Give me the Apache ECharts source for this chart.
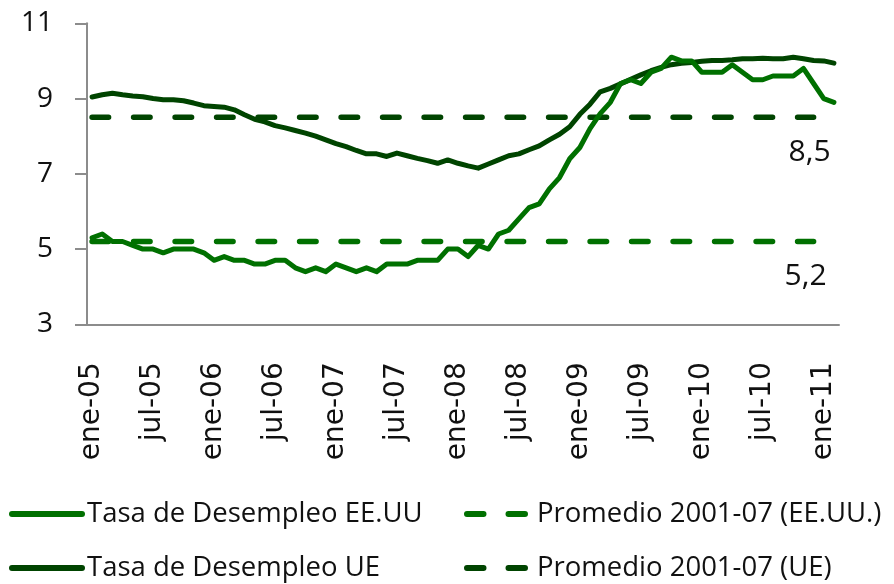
<!DOCTYPE html>
<html>
<head>
<meta charset="utf-8">
<script src="https://cdn.jsdelivr.net/npm/echarts@6/dist/echarts.min.js"></script>
<style>
  html, body { margin: 0; padding: 0; background: #fff; }
  #chart { width: 894px; height: 584px; }
</style>
</head>
<body>
<div id="chart"></div>
<script>
// Datos
const meses = ['ene', 'feb', 'mar', 'abr', 'may', 'jun', 'jul', 'ago', 'sep', 'oct', 'nov', 'dic'];
const anios = ['05', '06', '07', '08', '09', '10', '11'];
const categorias = [];
anios.forEach(function (a) {
  meses.forEach(function (m) { categorias.push(m + '-' + a); });
});
categorias.length = 74; // ene-05 .. feb-11

const tasaEEUU = [
  5.3, 5.4, 5.2, 5.2, 5.1, 5.0, 5.0, 4.9, 5.0, 5.0, 5.0, 4.9,
  4.7, 4.8, 4.7, 4.7, 4.6, 4.6, 4.7, 4.7, 4.5, 4.4, 4.5, 4.4,
  4.6, 4.5, 4.4, 4.5, 4.4, 4.6, 4.6, 4.6, 4.7, 4.7, 4.7, 5.0,
  5.0, 4.8, 5.1, 5.0, 5.4, 5.5, 5.8, 6.1, 6.2, 6.6, 6.9, 7.4,
  7.7, 8.2, 8.6, 8.9, 9.4, 9.5, 9.4, 9.7, 9.8, 10.1, 10.0, 10.0,
  9.7, 9.7, 9.7, 9.9, 9.7, 9.5, 9.5, 9.6, 9.6, 9.6, 9.8, 9.4,
  9.0, 8.9
];
const tasaUE = [
  9.04, 9.1, 9.14, 9.1, 9.07, 9.05, 9.0, 8.97, 8.97, 8.94, 8.88, 8.81,
  8.79, 8.77, 8.7, 8.57, 8.45, 8.38, 8.28, 8.22, 8.15, 8.08, 8.0, 7.9,
  7.8, 7.72, 7.62, 7.53, 7.53, 7.46, 7.55, 7.48, 7.41, 7.35, 7.28, 7.37,
  7.28, 7.21, 7.15, 7.26, 7.37, 7.48, 7.53, 7.64, 7.74, 7.9, 8.05, 8.25,
  8.58, 8.85, 9.18, 9.27, 9.39, 9.51, 9.63, 9.74, 9.83, 9.9, 9.94, 9.96,
  9.99, 10.01, 10.01, 10.03, 10.06, 10.06, 10.07, 10.06, 10.06, 10.1, 10.06, 10.01,
  10.0, 9.94
];
const promedioEEUU = 5.2;
const promedioUE = 8.5;
const mesesPromedio = 72; // ene-05 .. dic-10
const indiceEtiqueta = 71;

const verde = '#007000';
const verdeOscuro = '#004400';

function lineaPromedio(valor, dx) {
  const out = [];
  for (let i = 0; i < mesesPromedio; i++) {
    if (i === indiceEtiqueta) {
      out.push({
        value: valor,
        label: {
          show: true,
          position: 'bottom',
          distance: 20,
          offset: [dx, 0],
          formatter: String(valor).replace('.', ','),
          fontFamily: 'Open Sans',
          fontSize: 30,
          color: '#111'
        }
      });
    } else {
      out.push(valor);
    }
  }
  return out;
}

const grafico = echarts.init(document.getElementById('chart'));

const textoLeyenda = { fontFamily: 'Open Sans', fontSize: 27.5, color: '#111', lineHeight: 30 };
function leyenda(nombre, left, top, ancho, sangria) {
  return {
    left: left,
    top: top,
    padding: 0,
    itemWidth: ancho,
    itemHeight: 30,
    selectedMode: false,
    data: [nombre],
    itemStyle: { opacity: 0 },
    lineStyle: { width: 6, cap: 'round' },
    textStyle: Object.assign({}, textoLeyenda, { padding: [0, 0, 0, sangria] })
  };
}

const opciones = {
  animation: false,
  grid: { left: 87, right: 55, top: 23.3, bottom: 259.7 },
  legend: [
    leyenda('Tasa de Desempleo EE.UU', 9, 499, 70, 0),
    leyenda('Tasa de Desempleo UE', 9, 553, 70, 0),
    leyenda('Promedio 2001-07 (EE.UU.)', 464, 499, 60, 5),
    leyenda('Promedio 2001-07 (UE)', 464, 553, 60, 5)
  ],
  xAxis: {
    type: 'category',
    data: categorias,
    boundaryGap: true,
    axisLine: { lineStyle: { color: '#8c8c8c', width: 2 } },
    axisTick: { interval: 5, length: 11, lineStyle: { color: '#8c8c8c', width: 2 } },
    axisLabel: {
      interval: 5,
      rotate: 90,
      margin: 38,
      fontFamily: 'DejaVu Sans',
      fontSize: 28,
      color: '#111'
    },
    splitLine: { show: false }
  },
  yAxis: {
    type: 'value',
    min: 3,
    max: 11,
    interval: 2,
    axisLine: { show: true, lineStyle: { color: '#8c8c8c', width: 2 } },
    axisTick: { show: true, length: 12, lineStyle: { color: '#8c8c8c', width: 2 } },
    axisLabel: { margin: 34, fontFamily: 'Open Sans', fontSize: 28, color: '#111' },
    splitLine: { show: false }
  },
  series: [
    {
      name: 'Tasa de Desempleo EE.UU',
      type: 'line',
      data: tasaEEUU,
      symbol: 'none',
      z: 4,
      lineStyle: { color: verde, width: 5, cap: 'round', join: 'round' },
      itemStyle: { color: verde }
    },
    {
      name: 'Tasa de Desempleo UE',
      type: 'line',
      data: tasaUE,
      symbol: 'none',
      z: 3,
      lineStyle: { color: verdeOscuro, width: 5, cap: 'round', join: 'round' },
      itemStyle: { color: verdeOscuro }
    },
    {
      name: 'Promedio 2001-07 (EE.UU.)',
      type: 'line',
      data: lineaPromedio(promedioEEUU, -8),
      symbol: 'circle',
      symbolSize: 0,
      showSymbol: true,
      showAllSymbol: true,
      z: 2,
      lineStyle: { color: verde, width: 5.5, type: [16.5, 25], cap: 'round' },
      itemStyle: { color: verde }
    },
    {
      name: 'Promedio 2001-07 (UE)',
      type: 'line',
      data: lineaPromedio(promedioUE, -4),
      symbol: 'circle',
      symbolSize: 0,
      showSymbol: true,
      showAllSymbol: true,
      z: 2,
      lineStyle: { color: verdeOscuro, width: 5.5, type: [16.5, 25], cap: 'round' },
      itemStyle: { color: verdeOscuro }
    }
  ]
};

grafico.setOption(opciones);
</script>
</body>
</html>
